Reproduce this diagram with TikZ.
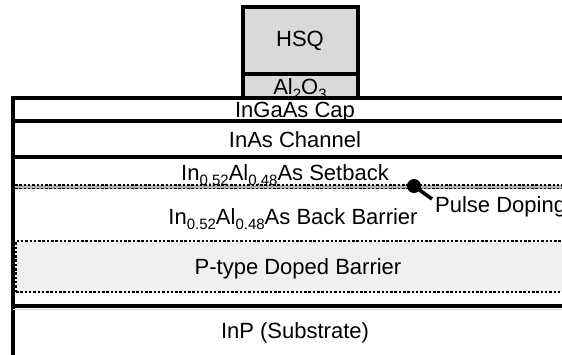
\documentclass[tikz,border=0pt]{standalone}
\usepackage{fontspec}
\setmainfont{Liberation Sans}
\newcommand\lsub[1]{\raisebox{-0.27em}{\fontsize{15}{15}\selectfont #1}}
\begin{document}
\begin{tikzpicture}[x=1pt,y=-1pt,
  thickline/.style={line width=3.5pt},
  dotline/.style={line width=1.4pt,dash pattern=on 2.5pt off 1.8pt},
  gatebox/.style={draw,line width=3.5pt,fill=black!15},
  lbl/.style={font=\fontsize{22}{25}\selectfont,inner sep=0pt}]
\useasboundingbox (0,0) rectangle (562,354);
\clip (0,0) rectangle (562,354);
\fill[white] (0,0) rectangle (562,354);

% P-type doped barrier region
\fill[black!6] (16,241) rectangle (570,292);
\draw[dotline] (16,292) -- (16,241) -- (570,241);
\draw[dotline] (16,292) -- (570,292);

% pulse doping sheet
\fill[black!30] (15,185) rectangle (570,188.5);
\draw[dotline,line width=1.1pt] (15,185) -- (570,185);
\draw[dotline,line width=1.1pt] (15,188.5) -- (570,188.5);

% layer boundaries
\draw[thickline] (13,356) -- (13,98) -- (570,98);
\draw[thickline] (13,121) -- (570,121);
\draw[thickline] (13,157) -- (570,157);
\draw[thickline] (13,306) -- (570,306);
\draw[black!15,line width=0.8pt] (13,309) -- (570,309);

% gate stack
\draw[gatebox] (243,74) rectangle (358,98);
\draw[gatebox] (243,7) rectangle (358,74);

% labels
\node[lbl] (hsq) at (300,41) {HSQ};
\node[lbl,anchor=base] (oxide) at (300,94) {Al\lsub{2}O\lsub{3}};
\node[lbl,anchor=base] (cap) at (295,117) {InGaAs Cap};
\node[lbl,anchor=base] (chan) at (295,147) {InAs Channel};
\node[lbl,anchor=base] (setback) at (285,180) {In\lsub{0.52}Al\lsub{0.48}As Setback};
\node[lbl,anchor=base] (barrier) at (293,224) {In\lsub{0.52}Al\lsub{0.48}As Back Barrier};
\node[lbl,anchor=base] (ptype) at (298,274) {P-type Doped Barrier};
\node[lbl,anchor=base] (sub) at (295,338) {InP (Substrate)};

% pulse doping marker
\coordinate (dot) at (414,186);
\fill (dot) circle (7);
\node[lbl,anchor=base west] (pulse) at (435,212) {Pulse Doping};
\coordinate (tail) at (432,199);
\draw[line width=3.5pt] (dot) -- (tail);
\end{tikzpicture}
\end{document}
